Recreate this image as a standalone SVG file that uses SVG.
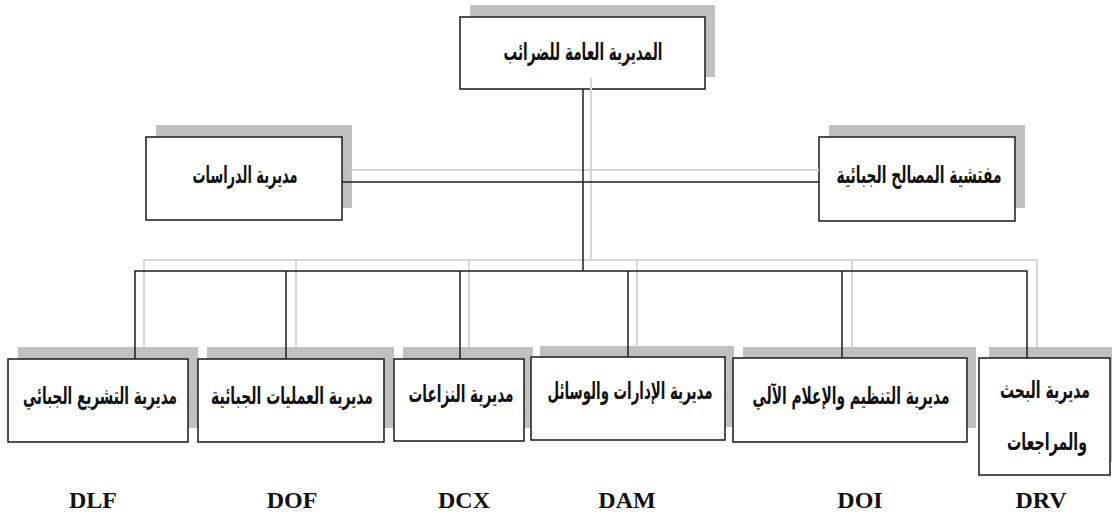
<svg xmlns="http://www.w3.org/2000/svg" width="1112" height="517" viewBox="0 0 1112 517">
<style>
.sh{fill:#c0c0c0;stroke:none}
.bx{fill:#ffffff;stroke:#262626;stroke-width:1.6}
.ar{font-family:"DejaVu Sans",sans-serif;font-size:18px;font-weight:bold;fill:#111;text-anchor:middle;dominant-baseline:central}
.sm{font-size:15px}
.lb{font-family:"Liberation Serif",serif;font-size:24px;font-weight:bold;fill:#111;text-anchor:middle}
.ln{fill:none;stroke:#1e1e1e;stroke-width:1.5}
.gl{fill:none;stroke:#d6d6d6;stroke-width:2}
</style>
<rect width="1112" height="517" fill="#ffffff"/>
<g id="n-dgi">
<rect class="sh" x="470" y="5" width="245" height="72"/>
<rect class="bx" x="460" y="17" width="245" height="72"/>
<text class="ar" transform="translate(583 52) scale(1 1.3)" direction="rtl" textLength="159" lengthAdjust="spacingAndGlyphs">المديرية العامة للضرائب</text>
</g>
<g id="n-etudes">
<rect class="sh" x="156" y="125" width="196" height="83"/>
<rect class="bx" x="146" y="137" width="196" height="83"/>
<text class="ar" transform="translate(245 175) scale(1 1.3)" direction="rtl" textLength="105" lengthAdjust="spacingAndGlyphs">مديرية الدراسات</text>
</g>
<g id="n-inspection">
<rect class="sh" x="829" y="125" width="196" height="83"/>
<rect class="bx" x="819" y="137" width="196" height="84"/>
<text class="ar" transform="translate(919 175) scale(1 1.3)" direction="rtl" textLength="165" lengthAdjust="spacingAndGlyphs">مفتشية المصالح الجبائية</text>
</g>
<g id="n-dlf">
<rect class="sh" x="18" y="347" width="180" height="81"/>
<rect class="bx" x="8" y="359" width="180" height="83"/>
<text class="ar" transform="translate(100 396) scale(1 1.3)" direction="rtl" textLength="154" lengthAdjust="spacingAndGlyphs">مديرية التشريع الجبائي</text>
</g>
<g id="n-dof">
<rect class="sh" x="207" y="347" width="187" height="81"/>
<rect class="bx" x="198" y="359" width="186" height="83"/>
<text class="ar" transform="translate(292 396) scale(1 1.3)" direction="rtl" textLength="162" lengthAdjust="spacingAndGlyphs">مديرية العمليات الجبائية</text>
</g>
<g id="n-dcx">
<rect class="sh" x="403" y="347" width="130" height="81"/>
<rect class="bx" x="394" y="359" width="130" height="82"/>
<text class="ar" transform="translate(461 394) scale(1 1.3)" direction="rtl" textLength="105" lengthAdjust="spacingAndGlyphs">مديرية النزاعات</text>
</g>
<g id="n-dam">
<rect class="sh" x="540" y="346" width="194" height="81"/>
<rect class="bx" x="531" y="357" width="194" height="83"/>
<text class="ar" transform="translate(630 391) scale(1 1.3)" direction="rtl" textLength="165" lengthAdjust="spacingAndGlyphs">مديرية الإدارات والوسائل</text>
</g>
<g id="n-doi">
<rect class="sh" x="743" y="347" width="233" height="81"/>
<rect class="bx" x="733" y="358" width="234" height="84"/>
<text class="ar" transform="translate(851 396) scale(1 1.3)" direction="rtl" textLength="197" lengthAdjust="spacingAndGlyphs">مديرية التنظيم والإعلام الآلي</text>
</g>
<g id="n-drv">
<rect class="sh" x="989" y="347" width="130" height="115"/>
<rect class="bx" x="979" y="358" width="131" height="117"/>
<text class="ar sm" transform="translate(1045 390) scale(1 1.55)" direction="rtl" textLength="90" lengthAdjust="spacingAndGlyphs">مديرية البحث</text>
<text class="ar sm" transform="translate(1047 442) scale(1 1.55)" direction="rtl" textLength="80" lengthAdjust="spacingAndGlyphs">والمراجعات</text>
</g>
<g id="connectors">
<path class="gl" d="M591 78V260M351 170H819M144 347V260H1037V347M296 260V347M469 260V347M637 260V347M852 260V347"/>
<path class="ln" d="M583 89V271M342 182H819M135 359V271H1027V358M286 271V359M460 271V359M628 271V357M842 271V358"/>
</g>
<g id="labels">
<text class="lb" x="93" y="508">DLF</text>
<text class="lb" x="292" y="508">DOF</text>
<text class="lb" x="464" y="508">DCX</text>
<text class="lb" x="627" y="508">DAM</text>
<text class="lb" x="860" y="508">DOI</text>
<text class="lb" x="1041" y="508">DRV</text>
</g>
</svg>
